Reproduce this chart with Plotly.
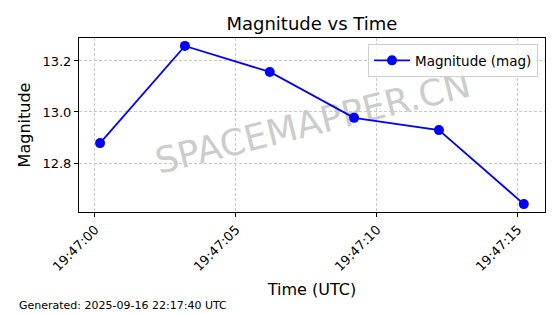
import plotly.graph_objects as go

times = ["2025-09-16 19:47:00.180", "2025-09-16 19:47:03.190", "2025-09-16 19:47:06.200",
         "2025-09-16 19:47:09.190", "2025-09-16 19:47:12.200", "2025-09-16 19:47:15.210"]
magnitudes = [12.878, 13.259, 13.157, 12.977, 12.929, 12.639]
x_tick_vals = ["2025-09-16 19:47:00", "2025-09-16 19:47:05", "2025-09-16 19:47:10", "2025-09-16 19:47:15"]
x_tick_text = ["19:47:00", "19:47:05", "19:47:10", "19:47:15"]
y_tick_vals = [12.8, 13.0, 13.2]
x_range = ["2025-09-16 19:46:59.433", "2025-09-16 19:47:15.962"]
y_range = [12.608, 13.290]

FONT = "DejaVu Sans"

fig = go.Figure()
fig.add_trace(go.Scatter(
    x=times, y=magnitudes, mode="lines+markers", name="Magnitude (mag)",
    line=dict(color="#0000ff", width=1.8),
    marker=dict(color="#0000ff", size=10),
))

fig.add_shape(
    type="rect", xref="paper", yref="paper", x0=0.0, x1=1.0, y0=0.2, y1=0.86,
    line=dict(width=0), fillcolor="rgba(0,0,0,0)", layer="below",
    label=dict(text="SPACEMAPPER.CN", textangle=-14, textposition="middle center",
               font=dict(family=FONT, size=36, color="rgba(195,195,195,0.85)")),
)

axis_common = dict(
    showline=True, linecolor="black", linewidth=1, mirror=True,
    ticks="outside", ticklen=4, tickcolor="black", tickwidth=1,
    showgrid=True, gridcolor="#c8c8c8", gridwidth=0.8, griddash="3px,2px",
    zeroline=False, tickfont=dict(family=FONT, size=13, color="black"),
)

fig.update_layout(
    width=560, height=314,
    margin=dict(l=79, r=15, t=38, b=102),
    paper_bgcolor="white", plot_bgcolor="white",
    font=dict(family=FONT, color="black"),
    title=dict(text="Magnitude vs Time", x=0.557, xanchor="center", y=0.925, yanchor="middle",
               font=dict(family=FONT, size=18, color="black")),
    xaxis=dict(
        type="date", range=x_range, tickvals=x_tick_vals, ticktext=x_tick_text,
        tickangle=-45,
        title=dict(text="Time (UTC)", font=dict(family=FONT, size=16, color="black"), standoff=10),
        **axis_common,
    ),
    yaxis=dict(
        range=y_range, tickvals=y_tick_vals, ticktext=["12.8", "13.0", "13.2"],
        title=dict(text="Magnitude", font=dict(family=FONT, size=16, color="black"), standoff=7),
        **axis_common,
    ),
    showlegend=True,
    legend=dict(x=0.985, xanchor="right", y=0.965, yanchor="top",
                bgcolor="rgba(255,255,255,0.8)", bordercolor="#d0d0d0", borderwidth=1,
                itemwidth=36,
                font=dict(family=FONT, size=13.5, color="black")),
    annotations=[dict(
        text="Generated: 2025-09-16 22:17:40 UTC", xref="paper", yref="paper",
        x=-0.133, y=-0.535, xanchor="left", yanchor="middle", showarrow=False,
        font=dict(family=FONT, size=11, color="black"),
    )],
)

fig.write_html("out.html")
